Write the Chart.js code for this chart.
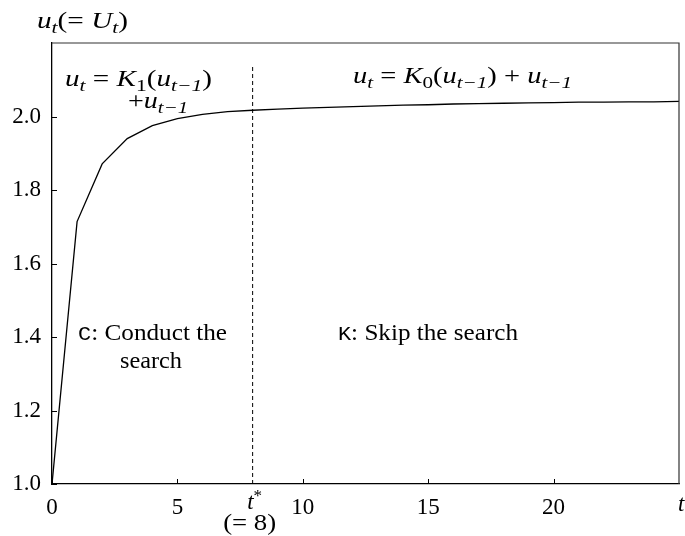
<!DOCTYPE html>
<html>
<head>
<meta charset="utf-8">
<script src="https://cdn.jsdelivr.net/npm/chart.js@4"></script>
<style>
  html, body { margin: 0; padding: 0; background: #fff; }
  #wrap { width: 685px; height: 536px; }
</style>
</head>
<body>
<div id="wrap"><canvas id="chart"></canvas></div>
<script>
// values
const tValues = [0, 1, 2, 3, 4, 5, 6, 7, 8, 9, 10, 11, 12, 13, 14, 15, 16, 17, 18, 19, 20, 21, 22, 23, 24, 25];
const uValues = [1.000, 1.714, 1.871, 1.940, 1.975, 1.994, 2.006, 2.013, 2.017, 2.020, 2.023, 2.025, 2.027, 2.029,
                 2.031, 2.032, 2.034, 2.035, 2.036, 2.037, 2.038, 2.039, 2.039, 2.040, 2.040, 2.041];
const xTicks = [0, 5, 10, 15, 20];
const yTicks = [1.0, 1.2, 1.4, 1.6, 1.8, 2.0];
const tStar = 8;
const dashTop = 2.136;

const SERIF = '"Liberation Serif", "Times New Roman", serif';
const MONO = '"Liberation Mono", "DejaVu Sans Mono", monospace';

// draw a run of text pieces: [text, style], style: r roman, i italic, s sub (italic), sr sub roman, p sup, tt mono
// width: optional target width, text is stretched sideways to it (CM is wider than Times)
function richText(ctx, x, y, parts, align, width) {
    const size = 23, small = 17;
    const fontFor = st => {
        if (st === 'i') return 'italic ' + size + 'px ' + SERIF;
        if (st === 's') return 'italic ' + small + 'px ' + SERIF;
        if (st === 'sr') return small + 'px ' + SERIF;
        if (st === 'p') return small + 'px ' + SERIF;
        if (st === 'tt') return (size - 3) + 'px ' + MONO;
        return size + 'px ' + SERIF;
    };
    let total = 0;
    parts.forEach(p => { ctx.font = fontFor(p[1]); total += ctx.measureText(p[0]).width; });
    const k = width ? width / total : 1;
    const w = total * k;
    let left = x;
    if (align === 'center') left = x - w / 2;
    if (align === 'right') left = x - w;
    ctx.save();
    ctx.translate(left, y);
    ctx.scale(k, 1);
    ctx.textBaseline = 'alphabetic';
    ctx.textAlign = 'left';
    let cx = 0;
    parts.forEach(p => {
        ctx.font = fontFor(p[1]);
        let dy = 0;
        if (p[1] === 's' || p[1] === 'sr') dy = 5;
        if (p[1] === 'p') dy = -8;
        ctx.fillText(p[0], cx, dy);
        cx += ctx.measureText(p[0]).width;
    });
    ctx.restore();
}

const annotations = {
    id: 'annotations',
    afterDraw(chart) {
        const ctx = chart.ctx;
        const xs = chart.scales.x, ys = chart.scales.y;
        const area = chart.chartArea;
        ctx.save();
        ctx.fillStyle = '#000';

        // frame top and right
        ctx.lineWidth = 1.2;
        ctx.strokeStyle = '#333';
        ctx.beginPath();
        ctx.moveTo(area.left, area.top);
        ctx.lineTo(area.right, area.top);
        ctx.lineTo(area.right, area.bottom);
        ctx.stroke();

        // inward tick marks
        ctx.strokeStyle = '#000';
        ctx.lineWidth = 1;
        ctx.beginPath();
        xTicks.forEach(v => {
            const px = Math.round(xs.getPixelForValue(v)) + 0.5;
            ctx.moveTo(px, area.bottom);
            ctx.lineTo(px, area.bottom - 5);
        });
        yTicks.forEach(v => {
            const py = Math.round(ys.getPixelForValue(v)) + 0.5;
            ctx.moveTo(area.left, py);
            ctx.lineTo(area.left + 5, py);
        });
        ctx.stroke();

        // x-axis extra labels
        const sx = xs.getPixelForValue(tStar);
        richText(ctx, sx + 2, 509, [['t', 'i'], ['*', 'p']], 'center');
        richText(ctx, sx - 3, 530, [['(= 8)', 'r']], 'center', 53);
        richText(ctx, area.right - 1, 511, [['t', 'i']], 'left');

        // y-axis title
        richText(ctx, 37, 28, [['u', 'i'], ['t', 's'], ['(= ', 'r'], ['U', 'i'], ['t', 's'], [')', 'r']], 'left', 91);

        // regime formulas
        richText(ctx, 65, 86, [['u', 'i'], ['t', 's'], [' = ', 'r'], ['K', 'i'], ['1', 'sr'], ['(', 'r'],
                               ['u', 'i'], ['t\u22121', 's'], [')', 'r']], 'left', 147);
        richText(ctx, 128, 108, [['+', 'r'], ['u', 'i'], ['t\u22121', 's']], 'left', 60);
        richText(ctx, 353, 83, [['u', 'i'], ['t', 's'], [' = ', 'r'], ['K', 'i'], ['0', 'sr'], ['(', 'r'],
                                ['u', 'i'], ['t\u22121', 's'], [') + ', 'r'], ['u', 'i'], ['t\u22121', 's']], 'left', 219);

        // regime names
        richText(ctx, 78, 340, [['C', 'tt'], [': Conduct the', 'r']], 'left', 149);
        richText(ctx, 120, 368, [['search', 'r']], 'left', 62);
        richText(ctx, 338, 340, [['K', 'tt'], [': Skip the search', 'r']], 'left', 180);
        ctx.restore();
    }
};

const ctx = document.getElementById('chart');
new Chart(ctx, {
    type: 'line',
    data: {
        datasets: [{
            label: 'u_t',
            data: tValues.map((t, i) => ({ x: t, y: uValues[i] })),
            borderColor: '#000',
            borderWidth: 1.3,
            pointRadius: 0,
            tension: 0,
            fill: false
        }, {
            label: 't*',
            data: [{ x: tStar, y: 1.0 }, { x: tStar, y: dashTop }],
            borderColor: '#000',
            borderWidth: 1,
            borderDash: [4, 3],
            pointRadius: 0,
            fill: false
        }]
    },
    options: {
        responsive: true,
        maintainAspectRatio: false,
        animation: false,
        layout: { padding: { top: 43, right: 6, left: 0, bottom: 0 } },
        plugins: {
            legend: { display: false },
            tooltip: { enabled: false }
        },
        scales: {
            x: {
                type: 'linear',
                min: 0,
                max: 25,
                afterBuildTicks: axis => { axis.ticks = xTicks.map(v => ({ value: v })); },
                afterFit: axis => { axis.height = 52; },
                grid: { drawOnChartArea: false, drawTicks: false },
                border: { color: '#000', width: 1.3 },
                ticks: {
                    color: '#000',
                    padding: 10,
                    autoSkip: false,
                    maxRotation: 0,
                    font: { family: SERIF, size: 23 },
                    callback: v => String(v)
                }
            },
            y: {
                min: 1.0,
                max: 2.2,
                afterBuildTicks: axis => { axis.ticks = yTicks.map(v => ({ value: v })); },
                afterFit: axis => { axis.width = 52; },
                grid: { drawOnChartArea: false, drawTicks: false },
                border: { color: '#000', width: 1.3 },
                ticks: {
                    color: '#000',
                    padding: 11,
                    font: { family: SERIF, size: 23 },
                    callback: v => v.toFixed(1)
                }
            }
        }
    },
    plugins: [annotations]
});
</script>
</body>
</html>
